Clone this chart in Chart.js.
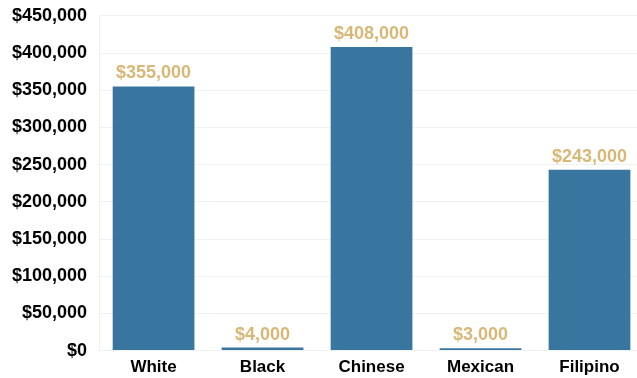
<!DOCTYPE html>
<html>
<head>
<meta charset="utf-8">
<script src="https://cdn.jsdelivr.net/npm/chart.js@4/dist/chart.umd.min.js"></script>
<style>
  html, body { margin: 0; padding: 0; background: #fff; overflow: hidden; }
  .wrap { width: 644px; height: 392px; position: relative; top: -7px; }
</style>
</head>
<body>
<div class="wrap"><canvas id="chart"></canvas></div>
<script>
const categories = ["White", "Black", "Chinese", "Mexican", "Filipino"];
const values = [355000, 4000, 408000, 3000, 243000];
const yMin = 0;
const yMax = 450000;
const yStep = 50000;

const barColor = "#39769f";
const labelColor = "#d8b877";
const fontFamily = "'Liberation Sans', Arial, Helvetica, sans-serif";

const money = v => "$" + v.toLocaleString("en-US");

// draws the value above each bar
const valueLabels = {
    id: "valueLabels",
    afterDatasetsDraw(chart) {
        const ctx = chart.ctx;
        const meta = chart.getDatasetMeta(0);
        ctx.save();
        ctx.font = "bold 18px " + fontFamily;
        ctx.fillStyle = labelColor;
        ctx.textAlign = "center";
        ctx.textBaseline = "alphabetic";
        meta.data.forEach((bar, i) => {
            ctx.fillText(money(values[i]), bar.x, bar.y - 8);
        });
        ctx.restore();
    }
};

const ctx = document.getElementById("chart").getContext("2d");
new Chart(ctx, {
    type: "bar",
    data: {
        labels: categories,
        datasets: [{
            data: values,
            backgroundColor: barColor,
            borderWidth: 0,
            barPercentage: 0.75,
            categoryPercentage: 1
        }]
    },
    options: {
        responsive: true,
        maintainAspectRatio: false,
        animation: false,
        layout: { padding: { left: 0, top: 0, right: 0, bottom: 0 } },
        plugins: {
            legend: { display: false },
            tooltip: { enabled: false }
        },
        scales: {
            x: {
                grid: { display: false, drawTicks: false },
                border: { display: false },
                ticks: {
                    color: "#000",
                    padding: 7,
                    font: { family: fontFamily, size: 17, weight: "bold" }
                }
            },
            y: {
                min: yMin,
                max: yMax,
                grid: { color: "#f1f1f1", drawTicks: false },
                border: { color: "#f6efe8" },
                ticks: {
                    stepSize: yStep,
                    color: "#000",
                    padding: 12,
                    font: { family: fontFamily, size: 18, weight: "bold" },
                    callback: v => money(v)
                }
            }
        }
    },
    plugins: [valueLabels]
});
</script>
</body>
</html>
